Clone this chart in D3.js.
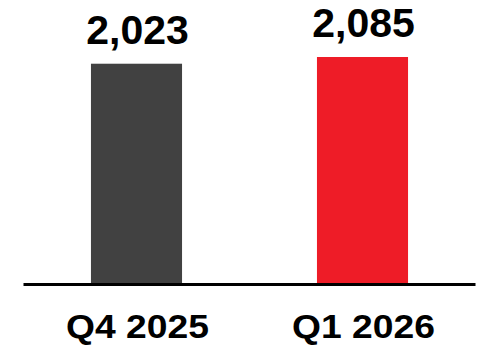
<!DOCTYPE html>
<html>
<head>
<meta charset="utf-8">
<script src="https://cdn.jsdelivr.net/npm/d3@7"></script>
<style>
  html, body { margin: 0; padding: 0; background: #fff; }
  svg { display: block; }
  text { font-family: "Liberation Sans", Arial, sans-serif; font-weight: bold; fill: #000; }
</style>
</head>
<body>
<svg id="chart" width="487" height="345"></svg>
<script>
const categories = ["Q4 2025", "Q1 2026"];
const values = [2023, 2085];
const barColors = ["#414141", "#ee1c27"];

const svg = d3.select("#chart");
const baseY = 283;

const x = d3.scaleBand()
  .domain(categories)
  .range([23.5, 475.5])
  .paddingInner(0.597)
  .paddingOuter(0.2985);

const y = d3.scaleLinear()
  .domain([0, d3.max(values)])
  .range([baseY, 57]);

const data = categories.map((c, i) => ({ cat: c, val: values[i], color: barColors[i] }));

svg.selectAll("rect.bar")
  .data(data)
  .join("rect")
  .attr("class", "bar")
  .attr("x", d => x(d.cat))
  .attr("y", d => y(d.val))
  .attr("width", x.bandwidth())
  .attr("height", d => y(0) - y(d.val))
  .attr("fill", d => d.color);

const fmt = d3.format(",");
svg.selectAll("text.val")
  .data(data)
  .join("text")
  .attr("class", "val")
  .attr("x", d => x(d.cat) + x.bandwidth() / 2 + 1)
  .attr("y", d => y(d.val) - 20)
  .attr("text-anchor", "middle")
  .style("font-size", "41px")
  .text(d => fmt(d.val));

// axis
const axis = d3.axisBottom(x).tickSize(0).tickPadding(0);
const g = svg.append("g").attr("transform", `translate(0,${baseY + 1.5})`).call(axis);
g.select(".domain").attr("stroke", "#000").attr("stroke-width", 3.2)
  .attr("d", `M${x.range()[0]},0H${x.range()[1]}`);
g.selectAll(".tick text")
  .attr("dy", null)
  .attr("y", 53.5)
  .attr("x", 1)
  .attr("textLength", 143)
  .attr("lengthAdjust", "spacingAndGlyphs")
  .style("font-size", "34px")
  .style("font-family", "'Liberation Sans', Arial, sans-serif")
  .style("font-weight", "bold")
  .attr("fill", "#000");
</script>
</body>
</html>
